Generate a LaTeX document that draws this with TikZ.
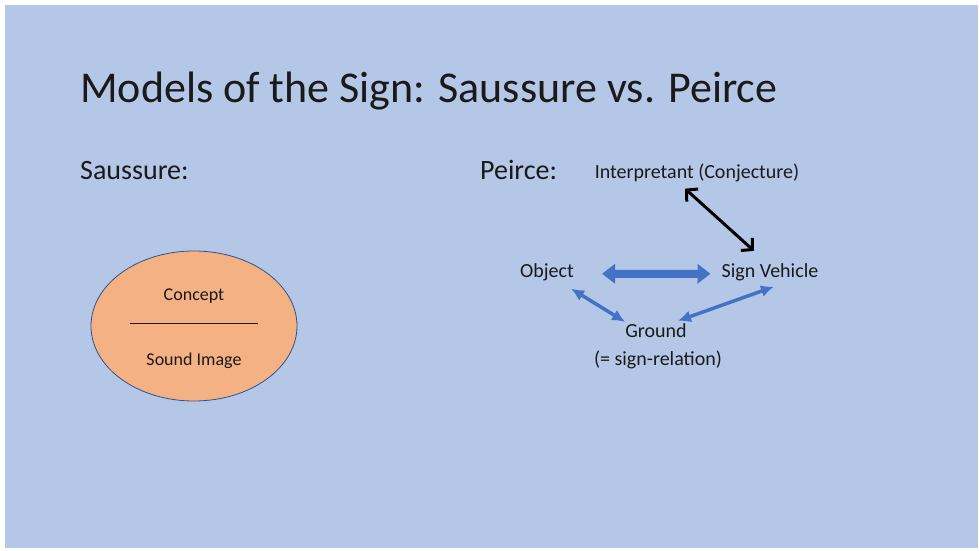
\documentclass[tikz,border=0pt]{standalone}
\usepackage{fontspec}
\setmainfont{Carlito}
\usepackage{xcolor}
\usetikzlibrary{shapes.geometric,arrows.meta}
\definecolor{slideblue}{HTML}{B4C7E7}
\definecolor{ovalfill}{HTML}{F4B183}
\definecolor{ovaledge}{HTML}{2F528F}
\definecolor{arrowblue}{HTML}{4472C4}
\definecolor{textgray}{HTML}{1A1A1A}

\begin{document}
\begin{tikzpicture}[x=1pt,y=-1pt,
    label/.style={anchor=base,inner sep=2pt,text=textgray,font=\fontsize{20}{24}\selectfont},
    bluearrow/.style={arrowblue,line width=3.5pt,{Latex[length=13pt,width=12pt]}-{Latex[length=13pt,width=12pt]}}]
    \useasboundingbox (0,0) rectangle (979,551);
    \fill[slideblue] (5,5) rectangle (978,548);
    % headings
    \node[anchor=base west,inner sep=0pt,text=textgray,font=\fontsize{44}{48}\selectfont] (title) at (80,102) {Models of the Sign: Saussure vs. Peirce};
    \node[anchor=base west,inner sep=0pt,text=textgray,font=\fontsize{28}{32}\selectfont] (saussure) at (80,179) {Saussure:};
    \node[anchor=base west,inner sep=0pt,text=textgray,font=\fontsize{28}{32}\selectfont] (peirce) at (480,179) {Peirce:};
    % Saussure
    \node[draw=ovaledge,fill=ovalfill,ellipse,line width=0.8pt,minimum width=206pt,minimum height=150pt] (sign) at (194,326) {};
    \draw[textgray,line width=1pt] ([xshift=-64pt,yshift=3pt]sign.center) -- ([xshift=64pt,yshift=3pt]sign.center);
    \node[label,font=\fontsize{18}{22}\selectfont] (concept) at (194,300) {Concept};
    \node[label,font=\fontsize{18}{22}\selectfont] (sound) at (194,365) {Sound Image};
    % Peirce
    \node[label] (interp) at (697,178) {Interpretant (Conjecture)};
    \node[label] (object) at (547,277) {Object};
    \node[label] (vehicle) at (770,277) {Sign Vehicle};
    \node[label] (ground) at (656,337) {Ground};
    \node[label] (relation) at (658,365) {(= sign-relation)};
    \draw[black,line width=3pt,{Straight Barb[length=8pt,width=17pt]}-{Straight Barb[length=8pt,width=17pt]}] ([shift={(-12,5)}]interp.south) -- ([shift={(-16,-10)}]vehicle.north);
    \draw[arrowblue,line width=8pt,{Triangle[length=13pt,width=19pt]}-{Triangle[length=13pt,width=19pt]}] ([shift={(26,2)}]object.east) -- ([shift={(-9,2)}]vehicle.west);
    \draw[bluearrow] ([shift={(-5,6)}]object.south east) -- ([shift={(2,1)}]ground.north west);
    \draw[bluearrow] ([shift={(-11,0)}]ground.north east) -- ([shift={(4,4)}]vehicle.south);
\end{tikzpicture}
\end{document}
